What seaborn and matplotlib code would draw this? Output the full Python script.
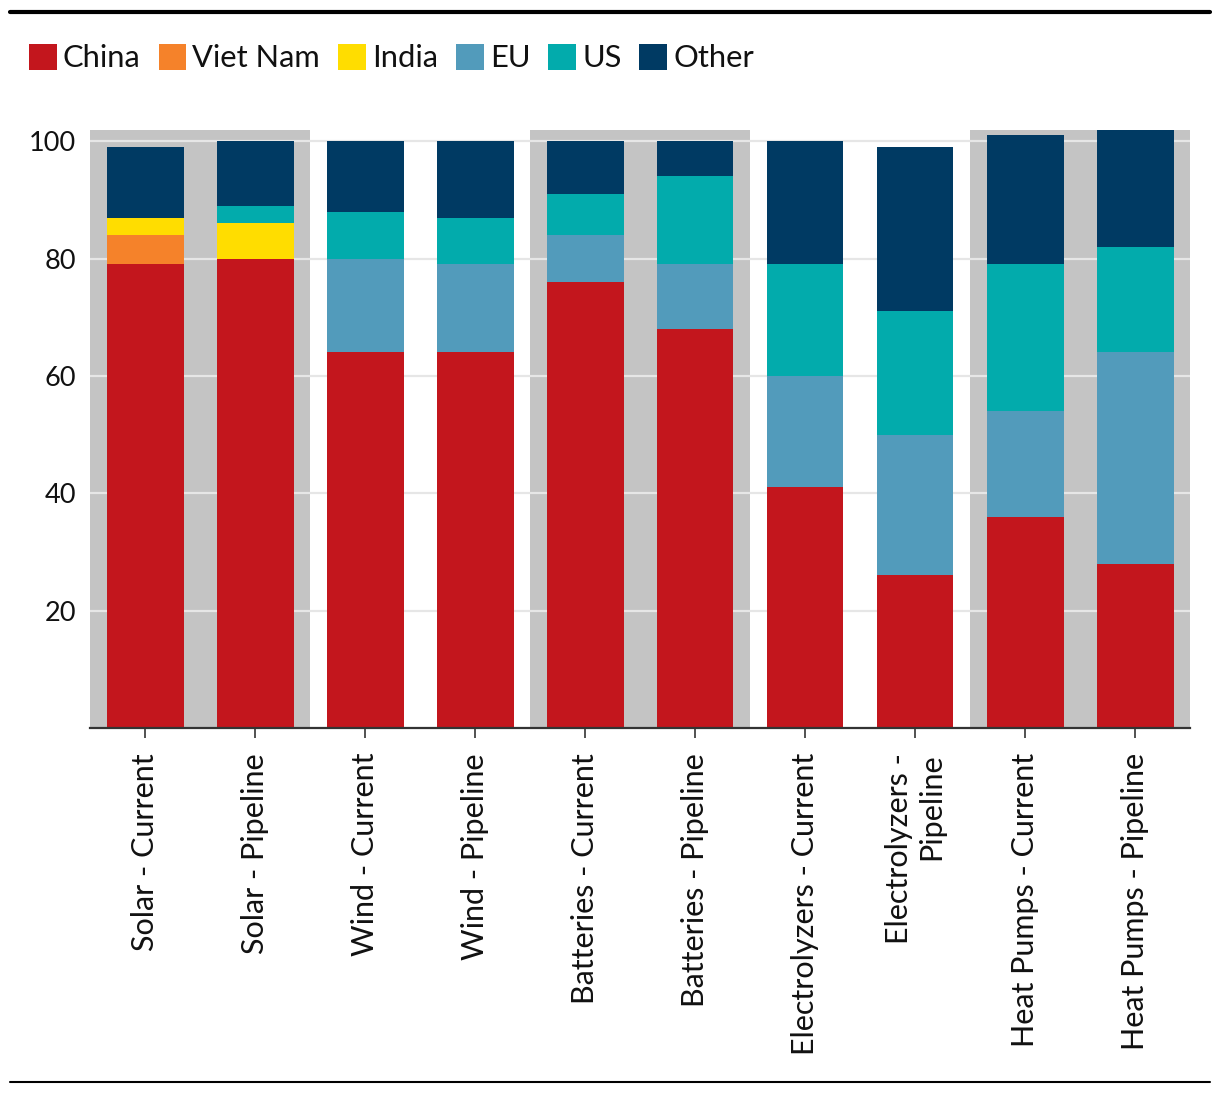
import matplotlib
matplotlib.use("Agg")
import matplotlib.pyplot as plt
import seaborn as sns
import numpy as np
import pandas as pd
from matplotlib.patches import Patch
from matplotlib.lines import Line2D

# ---- data ----
categories = ["Solar - Current", "Solar - Pipeline", "Wind - Current", "Wind - Pipeline",
              "Batteries - Current", "Batteries - Pipeline", "Electrolyzers - Current",
              "Electrolyzers - Pipeline", "Heat Pumps - Current", "Heat Pumps - Pipeline"]
tick_labels = ["Solar - Current", "Solar - Pipeline", "Wind - Current", "Wind - Pipeline",
               "Batteries - Current", "Batteries - Pipeline", "Electrolyzers - Current",
               "Electrolyzers -\nPipeline", "Heat Pumps - Current", "Heat Pumps - Pipeline"]
series_names = ["China", "Viet Nam", "India", "EU", "US", "Other"]
china    = [79, 80, 64, 64, 76, 68, 41, 26, 36, 28]
viet_nam = [5, 0, 0, 0, 0, 0, 0, 0, 0, 0]
india    = [3, 6, 0, 0, 0, 0, 0, 0, 0, 0]
eu       = [0, 0, 16, 15, 8, 11, 19, 24, 18, 36]
us       = [0, 3, 8, 8, 7, 15, 19, 21, 25, 18]
other    = [12, 11, 12, 13, 9, 6, 21, 28, 22, 20]
yticks = [20, 40, 60, 80, 100]
shaded_groups = [(0, 1), (4, 5), (8, 9)]

colors = ["#C3161D", "#F5822A", "#FFDD00", "#529BBB", "#02ABAC", "#003A63"]

sns.set_style("white")
plt.rcParams["font.family"] = ["Lato", "DejaVu Sans"]

fig = plt.figure(figsize=(12.2, 10.94), dpi=100)
ax = fig.add_axes([90/1220, 1-728/1094, 1100/1220, (728-129.5)/1094])

# background bands
for a, b in shaded_groups:
    ax.axvspan(a - 0.5, b + 0.5, color="#C4C4C4", zorder=0.2, lw=0)

# stacked bars via cumulative overdraw
vals = [china, viet_nam, india, eu, us, other]
cum = np.cumsum(np.array(vals), axis=0)
for i in range(len(series_names) - 1, -1, -1):
    df = pd.DataFrame({"cat": categories, "val": cum[i]})
    sns.barplot(data=df, x="cat", y="val", order=categories, color=colors[i],
                saturation=1, width=0.7, errorbar=None, ax=ax, zorder=2, linewidth=0)

ax.set_xlim(-0.5, 9.5)
ax.set_ylim(0, 102)
ax.set_axisbelow(True)
ax.yaxis.grid(True, color="#E6E6E6", lw=1.6)
ax.xaxis.grid(False)
ax.set_yticks(yticks)
ax.set_yticklabels([str(t) for t in yticks])
ax.set_xticks(range(len(categories)))
ax.set_xticklabels(tick_labels, rotation=90, ha="center", va="top", multialignment="right")
ax.set_xlabel("")
ax.set_ylabel("")
ax.tick_params(axis="y", length=0, pad=10, labelsize=19.5, labelcolor="#111111")
ax.tick_params(axis="x", length=7, width=1.2, color="#333333", pad=11, labelsize=22,
               labelcolor="#111111", bottom=True)
for s in ["top", "right", "left"]:
    ax.spines[s].set_visible(False)
ax.spines["bottom"].set_color("#333333")
ax.spines["bottom"].set_linewidth(1.6)
ax.spines["bottom"].set_zorder(3)

# legend
handles = [Patch(facecolor=c, edgecolor="none") for c in colors]
fig.legend(handles, series_names, loc="upper left", bbox_to_anchor=(29/1220, 1-44/1094),
           ncol=6, frameon=False, handlelength=0.9, handleheight=0.9, handletextpad=0.2,
           columnspacing=0.58, borderpad=0, borderaxespad=0, fontsize=22.2,
           labelcolor="#111111")

# rules
fig.add_artist(Line2D([10/1220, 1210/1220], [1-11.5/1094]*2, color="black", lw=3))
fig.add_artist(Line2D([10/1220, 1210/1220], [1-1082/1094]*2, color="black", lw=1.5))

fig.savefig("out.png", dpi=100)
